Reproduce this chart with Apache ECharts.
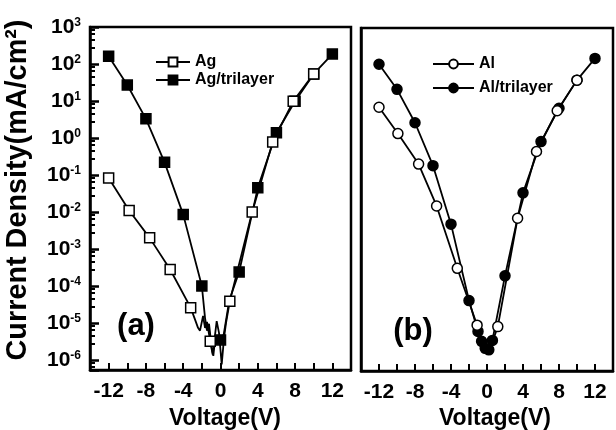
<!DOCTYPE html>
<html>
<head>
<meta charset="utf-8">
<script src="https://cdn.jsdelivr.net/npm/echarts@6/dist/echarts.min.js"></script>
<style>
  html, body { margin: 0; padding: 0; background: #fff; }
  #chart { width: 616px; height: 430px; }
</style>
</head>
<body>
<div id="chart"></div>
<script>
// ---- Panel (a): Ag cathode vs Ag/trilayer cathode ----
// marked measurement points (voltage in V, current density in mA/cm^2)
const agV = [-12, -9.8, -7.6, -5.4, -3.2, -1.1, 1.0, 3.4, 5.6, 7.8, 10.0];
const agJ = [8.3e-2, 1.1e-2, 2.0e-3, 2.8e-4, 2.6e-5, 3.2e-6, 3.9e-5, 1.0e-2, 0.78, 9.8, 54];
// dense low-current trace between the markers
const agNoiseV = [-2.73, -2.41, -2.2, -1.87, -1.66, -1.45, -0.84, -0.41, -0.16, 0.13, 0.38, 0.59];
const agNoiseJ = [1.23e-5, 7.4e-6, 6.2e-6, 1.55e-5, 7.4e-6, 1.07e-5, 1.4e-6, 1.12e-5, 5.4e-6, 7.6e-7, 4.0e-6, 1.0e-5];

const agTriV = [-12, -10, -8, -6, -4, -2, 0, 2, 4, 6, 8, 10, 12];
const agTriJ = [162, 27, 3.3, 0.22, 8.5e-3, 1.0e-4, 3.5e-6, 2.4e-4, 4.5e-2, 1.38, 9.8, 54, 186];
const agTriNoiseV = [-1.66, -1.45, -1.23, -0.94, -0.77, -0.54, -0.37, 0.35, 0.95];
const agTriNoiseJ = [1.38e-5, 6.2e-6, 9.5e-6, 2.1e-6, 1.3e-6, 4.5e-6, 3.5e-6, 5.0e-6, 4.2e-5];

// ---- Panel (b): Al cathode vs Al/trilayer cathode ----
const alV = [-12, -9.9, -7.6, -5.6, -3.3, -1.1, 1.2, 3.4, 5.5, 7.8, 10.0];
const alJ = [7.2, 1.4, 0.21, 1.55e-2, 3.2e-4, 9.3e-6, 8.5e-6, 7.2e-3, 0.46, 5.8, 39];
const alNoiseV = [-0.5, 0, 0.5];
const alNoiseJ = [3.2e-6, 1.6e-6, 2.8e-6];

const alTriV = [-12, -10, -8, -6, -4, -2, -1, -0.6, -0.2, 0.2, 0.6, 2, 4, 6, 8, 10, 12];
const alTriJ = [105, 22, 2.75, 0.19, 5.0e-3, 4.3e-5, 6.3e-6, 3.4e-6, 2.2e-6, 2.0e-6, 3.6e-6, 2.0e-4, 3.5e-2, 0.85, 6.8, 39, 151];
const alTriNoiseV = [];
const alTriNoiseJ = [];

// axis ticks
const voltLabelled = [-12, -8, -4, 0, 4, 8, 12];
const jMin = Math.pow(10, -6.27);
const jMax = 1000;

const FONT = '"Liberation Sans", Arial, Helvetica, sans-serif';

// merge marker points and unmarked dense points into one ordered trace
function buildTrace(v, j, nv, nj) {
  const pts = v.map((x, i) => ({ value: [x, j[i]] }));
  nv.forEach((x, i) => pts.push({ value: [x, nj[i]], symbol: 'none' }));
  pts.sort((a, b) => a.value[0] - b.value[0]);
  return pts;
}

function expLabel(val) {
  const e = Math.log10(val);
  const r = Math.round(e);
  if (Math.abs(e - r) > 1e-6) return '';
  return '{b|10}{s|' + r + '}';
}

function voltLabel(val) {
  return voltLabelled.indexOf(Math.round(val)) >= 0 && Math.abs(val - Math.round(val)) < 1e-6 ? String(Math.round(val)) : '';
}

function xAxisFor(gi) {
  return {
    type: 'value', gridIndex: gi, min: -14, max: 14, interval: 2,
    axisLine: { show: true, onZero: false, lineStyle: { color: '#000', width: 2.5 } },
    axisTick: { show: true, inside: true, length: 7, lineStyle: { color: '#000', width: 2 } },
    axisLabel: { show: true, margin: 11, color: '#000', formatter: voltLabel,
      fontSize: 21, fontWeight: 'bold', fontFamily: FONT, showMinLabel: true, showMaxLabel: true },
    splitLine: { show: false }
  };
}

const lineBase = {
  type: 'line',
  showAllSymbol: true,
  symbolSize: 10,
  lineStyle: { color: '#000', width: 1.8 },
  emphasis: { disabled: true },
  animation: false,
  z: 2
};

const chart = echarts.init(document.getElementById('chart'), null, { renderer: 'canvas' });

chart.setOption({
  backgroundColor: '#fff',
  animation: false,
  grid: [
    { left: 90, top: 27, width: 261, height: 343, show: true, borderColor: '#000', borderWidth: 2.5, backgroundColor: 'transparent' },
    { left: 361, top: 28, width: 260, height: 343, show: true, borderColor: '#000', borderWidth: 2.5, backgroundColor: 'transparent' }
  ],
  xAxis: [xAxisFor(0), xAxisFor(1)],
  yAxis: [
    {
      type: 'log', logBase: 10, gridIndex: 0, min: jMin, max: jMax, splitNumber: 10, position: 'left',
      axisLine: { show: true, onZero: false, lineStyle: { color: '#000', width: 2.5 } },
      axisTick: { show: true, inside: true, length: 9, lineStyle: { color: '#000', width: 2.5 } },
      minorTick: { show: true, splitNumber: 5, length: 5, lineStyle: { color: '#000', width: 2 } },
      splitLine: { show: false },
      minorSplitLine: { show: false },
      axisLabel: {
        margin: 9, color: '#000', formatter: expLabel,
        rich: {
          b: { fontSize: 21, fontWeight: 'bold', fontFamily: FONT, color: '#000' },
          s: { fontSize: 12, fontWeight: 'bold', fontFamily: FONT, color: '#000', verticalAlign: 'top' }
        }
      }
    },
    {
      type: 'log', logBase: 10, gridIndex: 1, min: jMin, max: jMax, splitNumber: 10, position: 'left',
      axisLine: { show: true, onZero: false, lineStyle: { color: '#000', width: 2.5 } },
      axisTick: { show: false },
      axisLabel: { show: false },
      splitLine: { show: false }
    }
  ],
  legend: [
    {
      data: ['Ag', 'Ag/trilayer'], orient: 'vertical', left: 150, top: 49,
      itemWidth: 34, itemHeight: 11, itemGap: 2,
      textStyle: { fontSize: 16, fontWeight: 'bold', fontFamily: FONT, color: '#000', lineHeight: 16 },
      selectedMode: false
    },
    {
      data: ['Al', 'Al/trilayer'], orient: 'vertical', left: 427, top: 51,
      itemWidth: 41, itemHeight: 11, itemGap: 8,
      textStyle: { fontSize: 16, fontWeight: 'bold', fontFamily: FONT, color: '#000', lineHeight: 16 },
      selectedMode: false
    }
  ],
  series: [
    Object.assign({}, lineBase, {
      name: 'Ag/trilayer', xAxisIndex: 0, yAxisIndex: 0, symbol: 'rect',
      itemStyle: { color: '#000', borderColor: '#000', borderWidth: 1.5 },
      data: buildTrace(agTriV, agTriJ, agTriNoiseV, agTriNoiseJ)
    }),
    Object.assign({}, lineBase, {
      name: 'Ag', xAxisIndex: 0, yAxisIndex: 0, symbol: 'rect',
      itemStyle: { color: '#fff', borderColor: '#000', borderWidth: 1.5 },
      data: buildTrace(agV, agJ, agNoiseV, agNoiseJ)
    }),
    Object.assign({}, lineBase, {
      name: 'Al/trilayer', xAxisIndex: 1, yAxisIndex: 1, symbol: 'circle',
      itemStyle: { color: '#000', borderColor: '#000', borderWidth: 1.5 },
      data: buildTrace(alTriV, alTriJ, alTriNoiseV, alTriNoiseJ)
    }),
    Object.assign({}, lineBase, {
      name: 'Al', xAxisIndex: 1, yAxisIndex: 1, symbol: 'circle',
      itemStyle: { color: '#fff', borderColor: '#000', borderWidth: 1.5 },
      data: buildTrace(alV, alJ, alNoiseV, alNoiseJ)
    })
  ],
  graphic: [
    {
      type: 'text', x: 18, y: 190, rotation: Math.PI / 2, scaleX: 0.96,
      style: { text: 'Current Density(mA/cm²)', fontSize: 30, fontWeight: 'bold', fontFamily: FONT,
        fill: '#000', textAlign: 'center', textVerticalAlign: 'middle' }
    },
    {
      type: 'text', x: 225, y: 419,
      style: { text: 'Voltage(V)', fontSize: 23, fontWeight: 'bold', fontFamily: FONT,
        fill: '#000', textAlign: 'center', textVerticalAlign: 'middle' }
    },
    {
      type: 'text', x: 495, y: 419,
      style: { text: 'Voltage(V)', fontSize: 23, fontWeight: 'bold', fontFamily: FONT,
        fill: '#000', textAlign: 'center', textVerticalAlign: 'middle' }
    },
    {
      type: 'text', x: 136, y: 326,
      style: { text: '(a)', fontSize: 31, fontWeight: 'bold', fontFamily: FONT,
        fill: '#000', textAlign: 'center', textVerticalAlign: 'middle' }
    },
    {
      type: 'text', x: 413, y: 331,
      style: { text: '(b)', fontSize: 31, fontWeight: 'bold', fontFamily: FONT,
        fill: '#000', textAlign: 'center', textVerticalAlign: 'middle' }
    }
  ]
});
</script>
</body>
</html>
